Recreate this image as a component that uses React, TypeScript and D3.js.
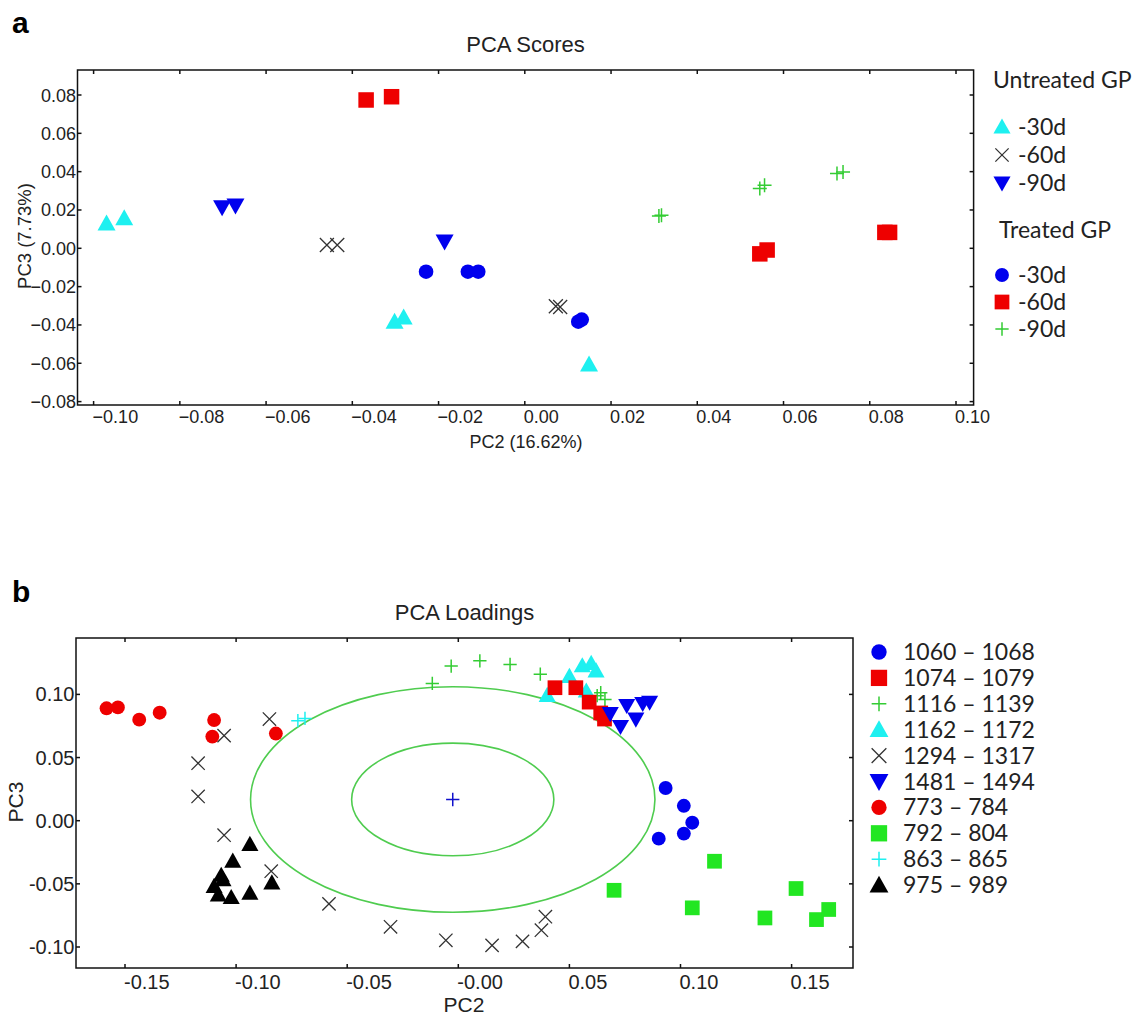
import React from "react";
import * as d3 from "d3";

// ---------- Panel a: PCA scores ----------
const scoreXTicks = [-0.1, -0.08, -0.06, -0.04, -0.02, 0, 0.02, 0.04, 0.06, 0.08, 0.1];
const scoreYTicks = [-0.08, -0.06, -0.04, -0.02, 0, 0.02, 0.04, 0.06, 0.08];
const scoreGroupTitles = ["Untreated GP", "Treated GP"];
const scoreDayLabels = ["-30d", "-60d", "-90d"];

const untreated30: [number, number][] = [[-0.097, 0.013], [-0.0929, 0.0157], [-0.0302, -0.0383], [-0.0281, -0.0361], [0.0149, -0.0606]];
const untreated60: [number, number][] = [[-0.0459, 0.0017], [-0.0435, 0.0017], [0.0072, -0.0302], [0.0082, -0.0306]];
const untreated90: [number, number][] = [[-0.0702, 0.0214], [-0.0671, 0.0223], [-0.0186, 0.0035]];
const treated30: [number, number][] = [[-0.0229, -0.0122], [-0.0132, -0.0122], [-0.0108, -0.0122], [0.0124, -0.0383], [0.0132, -0.0372]];
const treated60: [number, number][] = [[-0.0368, 0.0774], [-0.0309, 0.0791], [0.0545, -0.0029], [0.0562, -0.0009], [0.0835, 0.0083], [0.0846, 0.0083]];
const treated90: [number, number][] = [[0.0311, 0.0168], [0.0317, 0.0173], [0.0545, 0.0312], [0.0556, 0.0329], [0.0724, 0.039], [0.0738, 0.0398]];

// ---------- Panel b: PCA loadings ----------
const loadXTicks = [-0.15, -0.1, -0.05, 0, 0.05, 0.1, 0.15];
const loadXTickLabels = ["-0.15", "-0.10", "-0.05", "-0.00", "0.05", "0.10", "0.15"];
const loadYTicks = [-0.1, -0.05, 0, 0.05, 0.1];
const loadYTickLabels = ["-0.10", "-0.05", "0.00", "0.05", "0.10"];

const band1060: [number, number][] = [[0.0933, 0.0259], [0.1015, 0.0118], [0.1053, -0.0016], [0.1015, -0.0102], [0.0902, -0.0142]];
const band1074: [number, number][] = [[0.0435, 0.1053], [0.0529, 0.1053], [0.0589, 0.0939], [0.0641, 0.0853], [0.0658, 0.0805]];
const band1116: [number, number][] = [[-0.0117, 0.1087], [-0.0032, 0.1224], [0.0097, 0.1266], [0.0233, 0.1237], [0.0369, 0.116], [0.0641, 0.1013], [0.066, 0.096], [0.0625, 0.099]];
const band1162: [number, number][] = [[0.04, 0.0992], [0.05, 0.1142], [0.0558, 0.1227], [0.0598, 0.1246], [0.062, 0.1187], [0.0576, 0.1027]];
const band1294: [number, number][] = [[-0.085, 0.0805], [-0.1054, 0.0674], [-0.1171, 0.0455], [-0.1171, 0.0192], [-0.1054, -0.0115], [-0.0842, -0.04], [-0.0582, -0.0659], [-0.0305, -0.084], [-0.0056, -0.0947], [0.0152, -0.0987], [0.0289, -0.0955], [0.0374, -0.0867], [0.0392, -0.076]];
const band1481: [number, number][] = [[0.0684, 0.0848], [0.073, 0.0746], [0.0758, 0.0912], [0.0799, 0.0805], [0.083, 0.0928], [0.0861, 0.0938]];
const band773: [number, number][] = [[-0.1583, 0.089], [-0.1532, 0.0897], [-0.1436, 0.08], [-0.1344, 0.0855], [-0.1099, 0.0797], [-0.1107, 0.0666], [-0.0821, 0.069]];
const band792: [number, number][] = [[0.1153, -0.0321], [0.0701, -0.0551], [0.1053, -0.069], [0.138, -0.077], [0.152, -0.0537], [0.1612, -0.0783], [0.1667, -0.0703]];
const band863: [number, number][] = [[-0.0722, 0.0792], [-0.069, 0.081]];
const band975: [number, number][] = [[-0.0938, -0.0187], [-0.1015, -0.032], [-0.1067, -0.0432], [-0.1099, -0.052], [-0.108, -0.0587], [-0.1022, -0.0608], [-0.0938, -0.0573], [-0.0839, -0.0493], [-0.1059, -0.0467]];
const bandLabels = ["1060 – 1068", "1074 – 1079", "1116 – 1139", "1162 – 1172", "1294 – 1317", "1481 – 1494", "773 – 784", "792 – 804", "863 – 865", "975 – 989"];

const ellipseCenter: [number, number] = [-0.0025, 0.0168];
const ellipseRadii: [number, number][] = [[0.091, 0.0893], [0.0455, 0.0446]];

// ---------- styling ----------
const CYAN = "#1ef0f0";
const BLUE = "#0000ee";
const RED = "#ee0000";
const GREEN = "#33cc33";
const GREEN_SQ = "#22e622";
const XGRAY = "#333";
const TXT = "#222";
const SANS = "'Liberation Sans', Arial, sans-serif";
const LEG = "Lato, 'Open Sans', sans-serif";

type Shape = "tri" | "tridown" | "sq" | "circ" | "x" | "plus";

function Marker({ shape, x, y, color, s = 1 }: { shape: Shape; x: number; y: number; color: string; s?: number }) {
  const w = 18 * s, h = 16 * s;
  switch (shape) {
    case "tri":
      return <path d={`M${x},${y - h / 2 - 1}L${x + w / 2},${y + h / 2 - 1}L${x - w / 2},${y + h / 2 - 1}Z`} fill={color} />;
    case "tridown":
      return <path d={`M${x - w / 2},${y - h / 2 + 1}L${x + w / 2},${y - h / 2 + 1}L${x},${y + h / 2 + 1}Z`} fill={color} />;
    case "sq": {
      const a = 15.5 * s;
      return <rect x={x - a / 2} y={y - a / 2} width={a} height={a} fill={color} />;
    }
    case "circ":
      return <circle cx={x} cy={y} r={7.3 * s} fill={color} />;
    case "x": {
      const a = 7 * s;
      return <path d={`M${x - a},${y - a}L${x + a},${y + a}M${x - a},${y + a}L${x + a},${y - a}`} stroke={color} strokeWidth={1.3} fill="none" />;
    }
    case "plus": {
      const a = 7 * s;
      return <path d={`M${x - a},${y}L${x + a},${y}M${x},${y - a}L${x},${y + a}`} stroke={color} strokeWidth={1.5} fill="none" />;
    }
  }
  return null;
}

function Frame({ L, R, T, B, x, y, xt, yt }: { L: number; R: number; T: number; B: number; x: any; y: any; xt: number[]; yt: number[] }) {
  const tk = 4;
  return (
    <g stroke="#111" strokeWidth={1.5} fill="none">
      <rect x={L} y={T} width={R - L} height={B - T} />
      {xt.map((v, i) => (
        <g key={"x" + i}>
          <line x1={x(v)} x2={x(v)} y1={B} y2={B - tk} />
          <line x1={x(v)} x2={x(v)} y1={T} y2={T + tk} />
        </g>
      ))}
      {yt.map((v, i) => (
        <g key={"y" + i}>
          <line x1={L} x2={L + tk} y1={y(v)} y2={y(v)} />
          <line x1={R} x2={R - tk} y1={y(v)} y2={y(v)} />
        </g>
      ))}
    </g>
  );
}

export default function App() {
  // panel a
  const aL = 77.5, aR = 973.6, aT = 70, aB = 405;
  const xA = d3.scaleLinear().domain([-0.1, 0.1]).range([93.6, 956]);
  const yA = d3.scaleLinear().domain([-0.08, 0.08]).range([401.6, 95.0]);
  const fmtA = d3.format(".2f");

  const scoreSeries: { data: [number, number][]; shape: Shape; color: string }[] = [
    { data: untreated30, shape: "tri", color: CYAN },
    { data: untreated60, shape: "x", color: XGRAY },
    { data: untreated90, shape: "tridown", color: BLUE },
    { data: treated30, shape: "circ", color: BLUE },
    { data: treated60, shape: "sq", color: RED },
    { data: treated90, shape: "plus", color: GREEN },
  ];

  // panel b
  const bL = 76, bR = 853, bT = 638, bB = 968;
  const xB = d3.scaleLinear().domain([-0.15, 0.15]).range([125, 791.6]);
  const yB = d3.scaleLinear().domain([-0.1, 0.1]).range([947, 694.4]);

  const loadSeries: { data: [number, number][]; shape: Shape; color: string }[] = [
    { data: band1060, shape: "circ", color: BLUE },
    { data: band1074, shape: "sq", color: RED },
    { data: band1116, shape: "plus", color: GREEN },
    { data: band1162, shape: "tri", color: CYAN },
    { data: band1294, shape: "x", color: XGRAY },
    { data: band1481, shape: "tridown", color: BLUE },
    { data: band773, shape: "circ", color: RED },
    { data: band792, shape: "sq", color: GREEN_SQ },
    { data: band863, shape: "plus", color: CYAN },
    { data: band975, shape: "tri", color: "#000" },
  ];
  const drawOrder = [4, 6, 9, 8, 2, 0, 7, 3, 1, 5];

  const legendAItems = [
    { shape: "tri" as Shape, color: CYAN, y: 127 },
    { shape: "x" as Shape, color: XGRAY, y: 155 },
    { shape: "tridown" as Shape, color: BLUE, y: 183 },
    { shape: "circ" as Shape, color: BLUE, y: 275 },
    { shape: "sq" as Shape, color: RED, y: 302 },
    { shape: "plus" as Shape, color: GREEN, y: 329 },
  ];

  return (
    <svg width={1140} height={1015} style={{ position: "absolute", left: 0, top: 0, background: "#fff" }}>
      <rect x={0} y={0} width={1140} height={1015} fill="#fff" />
      {/* ---------- panel a ---------- */}
      <text x={12} y={33} fontFamily={SANS} fontWeight="bold" fontSize={30} fill="#000">a</text>
      <text x={(aL + aR) / 2} y={52} textAnchor="middle" fontFamily={SANS} fontSize={22} fill={TXT}>PCA Scores</text>
      <Frame L={aL} R={aR} T={aT} B={aB} x={xA} y={yA} xt={scoreXTicks} yt={scoreYTicks} />
      {scoreXTicks.map((v, i) => (
        <text key={i} x={xA(v) - 1} y={423} fontFamily={SANS} fontSize={18} fill={TXT}>{fmtA(v)}</text>
      ))}
      {scoreYTicks.map((v, i) => (
        <text key={i} x={aL - 1.5} y={yA(v) + 6.5} textAnchor="end" fontFamily={SANS} fontSize={18} fill={TXT}>{fmtA(v)}</text>
      ))}
      <text x={526} y={448} textAnchor="middle" fontFamily={SANS} fontSize={18} fill={TXT}>PC2 (16.62%)</text>
      <text transform="translate(31,236) rotate(-90)" textAnchor="middle" fontFamily={SANS} fontSize={18.5} fill={TXT}>PC3 (7.73%)</text>
      {scoreSeries.map((s, i) => (
        <g key={i}>
          {s.data.map((p, j) => (
            <Marker key={j} shape={s.shape} x={xA(p[0])} y={yA(p[1])} color={s.color} />
          ))}
        </g>
      ))}
      {/* legend a */}
      <text x={993} y={88} fontFamily={LEG} fontSize={23} fill={TXT}>{scoreGroupTitles[0]}</text>
      <text x={999} y={238} fontFamily={LEG} fontSize={23} fill={TXT}>{scoreGroupTitles[1]}</text>
      {legendAItems.map((it, i) => (
        <g key={i}>
          <Marker shape={it.shape} x={1002} y={it.y} color={it.color} s={0.95} />
          <text x={1018} y={it.y + 8} fontFamily={LEG} fontSize={23} fill={TXT}>{scoreDayLabels[i % 3]}</text>
        </g>
      ))}

      {/* ---------- panel b ---------- */}
      <text x={12} y={602} fontFamily={SANS} fontWeight="bold" fontSize={30} fill="#000">b</text>
      <text x={(bL + bR) / 2} y={620} textAnchor="middle" fontFamily={SANS} fontSize={22} fill={TXT}>PCA Loadings</text>
      <Frame L={bL} R={bR} T={bT} B={bB} x={xB} y={yB} xt={loadXTicks} yt={loadYTicks} />
      {loadXTicks.map((v, i) => (
        <text key={i} x={xB(v) - 1} y={988.5} fontFamily={SANS} fontSize={20} fill={TXT}>{loadXTickLabels[i]}</text>
      ))}
      {loadYTicks.map((v, i) => (
        <text key={i} x={bL - 1.5} y={yB(v) + 7} textAnchor="end" fontFamily={SANS} fontSize={20} fill={TXT}>{loadYTickLabels[i]}</text>
      ))}
      <text x={464} y={1012} textAnchor="middle" fontFamily={SANS} fontSize={21} fill={TXT}>PC2</text>
      <text transform="translate(23,802) rotate(-90)" textAnchor="middle" fontFamily={SANS} fontSize={21} fill={TXT}>PC3</text>
      {ellipseRadii.map((r, i) => (
        <ellipse
          key={i}
          cx={xB(ellipseCenter[0])}
          cy={yB(ellipseCenter[1])}
          rx={xB(ellipseCenter[0] + r[0]) - xB(ellipseCenter[0])}
          ry={yB(ellipseCenter[1]) - yB(ellipseCenter[1] + r[1])}
          fill="none"
          stroke="#4fcc4f"
          strokeWidth={1.6}
        />
      ))}
      <Marker shape="plus" x={xB(ellipseCenter[0])} y={yB(ellipseCenter[1])} color="#1010cc" s={0.95} />
      {drawOrder.map((k) => (
        <g key={k}>
          {loadSeries[k].data.map((p, j) => (
            <Marker key={j} shape={loadSeries[k].shape} x={xB(p[0])} y={yB(p[1])} color={loadSeries[k].color} s={0.95} />
          ))}
        </g>
      ))}
      {/* legend b */}
      {loadSeries.map((s, i) => {
        const yy = 652 + i * 25.9;
        return (
          <g key={i}>
            <Marker shape={s.shape} x={879} y={yy} color={s.color} s={1.05} />
            <text x={903} y={yy + 8} fontFamily={LEG} fontSize={23} fill={TXT}>{bandLabels[i]}</text>
          </g>
        );
      })}
    </svg>
  );
}
